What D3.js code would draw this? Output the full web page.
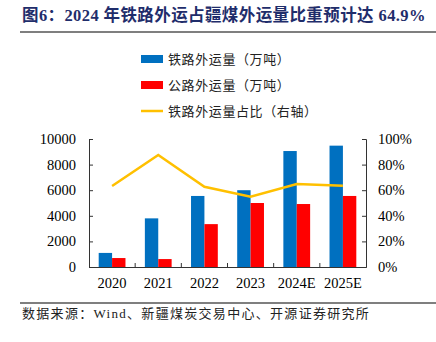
<!DOCTYPE html>
<html>
<head>
<meta charset="utf-8">
<script src="https://cdn.jsdelivr.net/npm/d3@7"></script>
<style>
  body { margin: 0; background: #fff; }
  svg { display: block; }
  text { font-family: "Liberation Serif", "Noto Sans CJK SC", serif; }
  .cjk { font-family: "Noto Sans CJK SC", sans-serif; }
</style>
</head>
<body>
<svg width="436" height="342"></svg>
<script>
const years = ['2020', '2021', '2022', '2023', '2024E', '2025E'];
const railVolume = [1100, 3800, 5550, 6000, 9060, 9480];
const roadVolume = [700, 620, 3350, 5000, 4920, 5550];
const railShare = [63.3, 87.5, 62.7, 55.0, 64.9, 63.5];
const leftTicks = [0, 2000, 4000, 6000, 8000, 10000];
const rightTicks = [0, 20, 40, 60, 80, 100];

const svg = d3.select('svg');

// title + rule
svg.append('text')
  .attr('x', 22)
  .attr('y', 21)
  .attr('fill', '#1f2d6b')
  .attr('font-weight', 'bold')
  .attr('font-size', 16.5)
  .attr('letter-spacing', 0.4)
  .text('图6：2024 年铁路外运占疆煤外运量比重预计达 64.9%');
svg.append('line')
  .attr('x1', 20).attr('x2', 436)
  .attr('y1', 32).attr('y2', 32)
  .attr('stroke', '#555').attr('stroke-width', 1.5);

const x = d3.scaleBand().domain(years).range([89, 366]).padding(0);
const yL = d3.scaleLinear().domain([0, 10000]).range([267, 139]);
const yR = d3.scaleLinear().domain([0, 100]).range([267, 139]);
const barW = x.bandwidth() * 0.29;

// bars
const groups = svg.append('g')
  .selectAll('g')
  .data(years)
  .enter()
  .append('g')
  .attr('transform', d => `translate(${x(d) + x.bandwidth() / 2}, 0)`);
groups.append('rect')
  .attr('x', -barW)
  .attr('width', barW)
  .attr('y', (d, i) => yL(railVolume[i]))
  .attr('height', (d, i) => yL(0) - yL(railVolume[i]))
  .attr('fill', '#0070c0');
groups.append('rect')
  .attr('x', 0)
  .attr('width', barW)
  .attr('y', (d, i) => yL(roadVolume[i]))
  .attr('height', (d, i) => yL(0) - yL(roadVolume[i]))
  .attr('fill', '#ff0000');

// share line on the right axis
const line = d3.line()
  .x((d, i) => x(years[i]) + x.bandwidth() / 2)
  .y(d => yR(d));
svg.append('path')
  .datum(railShare)
  .attr('d', line)
  .attr('fill', 'none')
  .attr('stroke', '#ffc000')
  .attr('stroke-width', 2.5);

// axes
const leftAxis = svg.append('g')
  .attr('transform', 'translate(89,0)')
  .call(d3.axisRight(yL).tickValues(leftTicks).tickSize(4).tickFormat(''));
const rightAxis = svg.append('g')
  .attr('transform', 'translate(366,0)')
  .call(d3.axisLeft(yR).tickValues(rightTicks).tickSize(4).tickFormat(''));
const bottomAxis = svg.append('g')
  .attr('transform', 'translate(0,267)')
  .call(d3.axisTop(x).tickValues([]).tickSizeOuter(0));
[leftAxis, rightAxis, bottomAxis].forEach(g => {
  g.select('.domain').attr('stroke', '#333');
  g.selectAll('.tick line').attr('stroke', '#333');
});
// category separators
svg.append('g')
  .selectAll('line')
  .data(years.slice(1))
  .enter()
  .append('line')
  .attr('x1', d => x(d)).attr('x2', d => x(d))
  .attr('y1', 267).attr('y2', 263)
  .attr('stroke', '#333');

svg.append('g')
  .selectAll('text')
  .data(leftTicks)
  .enter()
  .append('text')
  .attr('x', 76)
  .attr('y', d => yL(d) + 5)
  .attr('text-anchor', 'end')
  .attr('font-size', 14.5)
  .attr('fill', '#000')
  .text(d => d);
svg.append('g')
  .selectAll('text')
  .data(rightTicks)
  .enter()
  .append('text')
  .attr('x', 378)
  .attr('y', d => yR(d) + 5)
  .attr('font-size', 14.5)
  .attr('fill', '#000')
  .text(d => d + '%');
svg.append('g')
  .selectAll('text')
  .data(years)
  .enter()
  .append('text')
  .attr('x', d => x(d) + x.bandwidth() / 2)
  .attr('y', 288)
  .attr('text-anchor', 'middle')
  .attr('font-size', 14.5)
  .attr('fill', '#000')
  .text(d => d);

// legend
const legendItems = [
  { label: '铁路外运量（万吨）', color: '#0070c0', type: 'rect' },
  { label: '公路外运量（万吨）', color: '#ff0000', type: 'rect' },
  { label: '铁路外运量占比（右轴）', color: '#ffc000', type: 'line' }
];
const legend = svg.append('g')
  .selectAll('g')
  .data(legendItems)
  .enter()
  .append('g')
  .attr('transform', (d, i) => `translate(141, ${59 + i * 26})`);
legend.filter(d => d.type === 'rect')
  .append('rect')
  .attr('x', 0).attr('y', -4)
  .attr('width', 22).attr('height', 8)
  .attr('fill', d => d.color);
legend.filter(d => d.type === 'line')
  .append('line')
  .attr('x1', 0).attr('x2', 22)
  .attr('y1', 0).attr('y2', 0)
  .attr('stroke', d => d.color)
  .attr('stroke-width', 2.5);
legend.append('text')
  .attr('class', 'cjk')
  .attr('x', 27)
  .attr('y', 5)
  .attr('font-size', 13)
  .attr('letter-spacing', 0.6)
  .attr('fill', '#222')
  .text(d => d.label);

// source footer
svg.append('line')
  .attr('x1', 20).attr('x2', 436)
  .attr('y1', 303).attr('y2', 303)
  .attr('stroke', '#555').attr('stroke-width', 1.5);
svg.append('text')
  .attr('x', 22)
  .attr('y', 318)
  .attr('font-size', 13)
  .attr('letter-spacing', 1.3)
  .attr('fill', '#222')
  .text('数据来源：Wind、新疆煤炭交易中心、开源证券研究所');
</script>
</body>
</html>
